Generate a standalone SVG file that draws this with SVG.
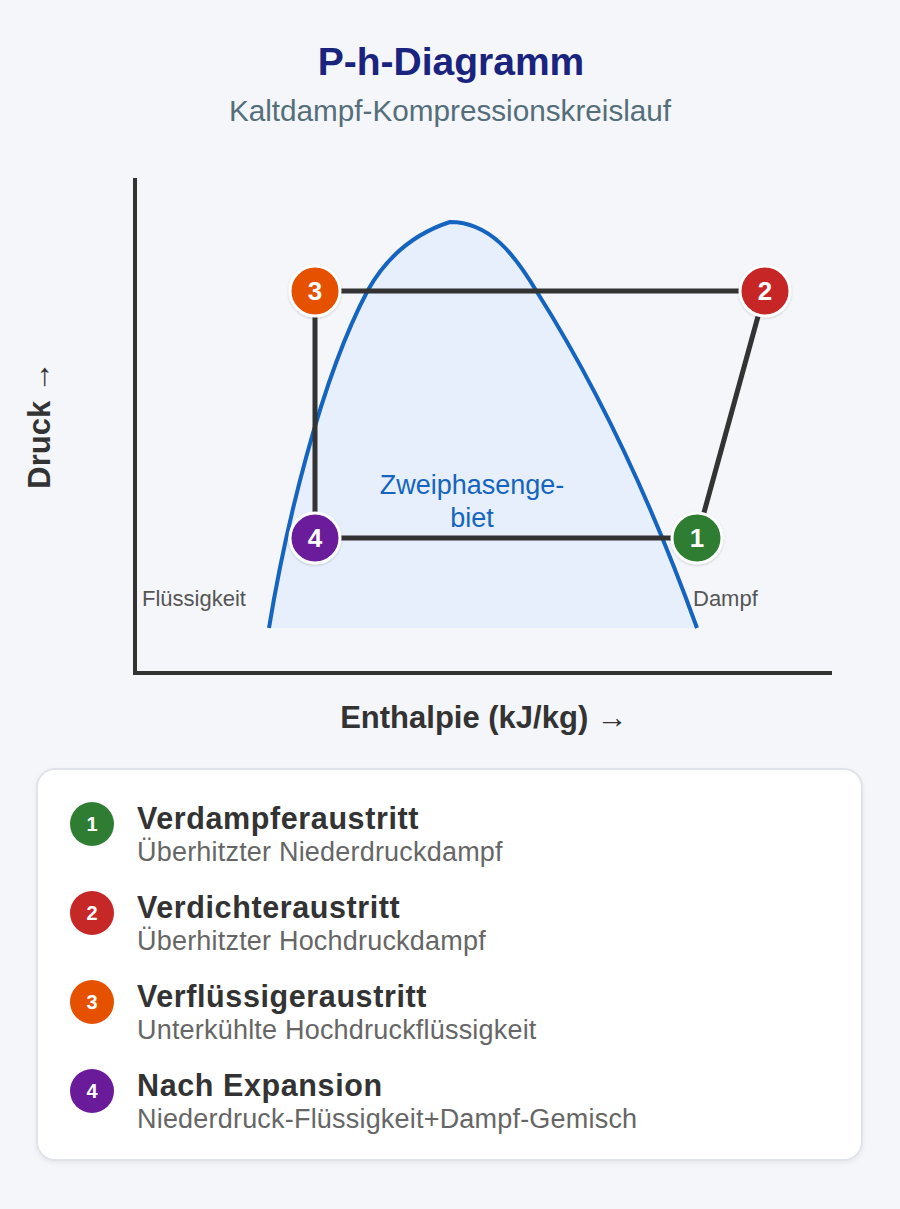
<svg xmlns="http://www.w3.org/2000/svg" width="900" height="1209" viewBox="0 0 900 1209">
  <defs>
    <filter id="sh" x="-30%" y="-30%" width="160%" height="160%">
      <feDropShadow dx="0" dy="1" stdDeviation="1.2" flood-color="#000" flood-opacity="0.18"/>
    </filter>
    <filter id="boxsh" x="-5%" y="-5%" width="110%" height="110%">
      <feDropShadow dx="0" dy="2" stdDeviation="2" flood-color="#000" flood-opacity="0.06"/>
    </filter>
    <style>
      .title { font-family: "Liberation Sans", Arial, sans-serif; font-weight: bold; font-size: 39px; fill: #1a237e; }
      .subtitle { font-family: "Liberation Sans", Arial, sans-serif; font-size: 29.7px; fill: #546e7a; }
      .axislabel { font-family: "Liberation Sans", Arial, sans-serif; font-weight: bold; font-size: 31px; fill: #333; }
      .axis { stroke: #333; stroke-width: 4; fill: none; }
      .cycle { stroke: #333; stroke-width: 5; fill: none; }
      .dome { stroke: #1565c0; stroke-width: 4; fill: none; stroke-linejoin: round; }
      .domefill { fill: #e6effb; stroke: none; }
      .region { font-family: "Liberation Sans", Arial, sans-serif; font-size: 22px; fill: #555; }
      .zone { font-family: "Liberation Sans", Arial, sans-serif; font-size: 27px; fill: #1565c0; }
      .node circle { stroke: #fff; stroke-width: 3; filter: url(#sh); }
      .node text { font-family: "Liberation Sans", Arial, sans-serif; font-weight: bold; font-size: 26px; fill: #fff; text-anchor: middle; }
      .leg circle { stroke: none; }
      .leg .num { font-family: "Liberation Sans", Arial, sans-serif; font-weight: bold; font-size: 20px; fill: #fff; text-anchor: middle; }
      .leg .lt { font-family: "Liberation Sans", Arial, sans-serif; font-weight: bold; font-size: 30.5px; letter-spacing: 0.6px; fill: #333; }
      .leg .ls { font-family: "Liberation Sans", Arial, sans-serif; font-size: 27px; letter-spacing: 0.2px; fill: #666; }
      .c1 { fill: #2e7d32; }
      .c2 { fill: #c62828; }
      .c3 { fill: #e65100; }
      .c4 { fill: #6a1b9a; }
    </style>
  </defs>

  <rect x="0" y="0" width="900" height="1209" fill="#f4f6fa"/>

  <g id="header">
    <text class="title" x="451" y="75" text-anchor="middle">P-h-Diagramm</text>
    <text class="subtitle" x="450" y="121" text-anchor="middle">Kaltdampf-Kompressionskreislauf</text>
  </g>

  <g id="dome">
    <path class="domefill" d="M 269 628 C 285 530, 320 380, 368 290 C 385 260, 410 235, 450 222 C 490 222, 515 255, 537 292 C 580 360, 640 470, 697 628 Z"/>
    <path class="dome" d="M 269 628 C 285 530, 320 380, 368 290 C 385 260, 410 235, 450 222 C 490 222, 515 255, 537 292 C 580 360, 640 470, 697 628"/>
    <text class="zone" x="472" y="494" text-anchor="middle">Zweiphasenge-</text>
    <text class="zone" x="472" y="527" text-anchor="middle">biet</text>
  </g>

  <g id="axes">
    <line class="axis" x1="135" y1="178" x2="135" y2="675"/>
    <line class="axis" x1="133" y1="673" x2="832" y2="673"/>
    <text class="axislabel" x="484" y="728" text-anchor="middle">Enthalpie (kJ/kg) →</text>
    <text class="axislabel" transform="translate(50 425) rotate(-90)" x="0" y="0" text-anchor="middle">Druck →</text>
    <text class="region" x="142" y="606">Flüssigkeit</text>
    <text class="region" x="693" y="606">Dampf</text>
  </g>

  <g id="connectors">
    <line class="cycle" x1="315" y1="291" x2="765" y2="291"/>
    <line class="cycle" x1="765" y1="291" x2="697" y2="538"/>
    <line class="cycle" x1="697" y1="538" x2="315" y2="538"/>
    <line class="cycle" x1="315" y1="538" x2="315" y2="291"/>
  </g>

  <g id="node-1" class="node">
    <circle class="c1" cx="697" cy="538" r="25"/>
    <text x="697" y="547">1</text>
  </g>
  <g id="node-2" class="node">
    <circle class="c2" cx="765" cy="291" r="25"/>
    <text x="765" y="300">2</text>
  </g>
  <g id="node-3" class="node">
    <circle class="c3" cx="315" cy="291" r="25"/>
    <text x="315" y="300">3</text>
  </g>
  <g id="node-4" class="node">
    <circle class="c4" cx="315" cy="538" r="25"/>
    <text x="315" y="547">4</text>
  </g>

  <g id="legend">
    <rect x="37" y="769" width="825" height="391" rx="18" fill="#fff" stroke="#e0e3e8" stroke-width="2" filter="url(#boxsh)"/>
    <g id="legend-1" class="leg">
      <circle class="c1" cx="92" cy="824" r="22"/>
      <text class="num" x="92" y="831">1</text>
      <text class="lt" x="137" y="829">Verdampferaustritt</text>
      <text class="ls" x="137" y="861">Überhitzter Niederdruckdampf</text>
    </g>
    <g id="legend-2" class="leg">
      <circle class="c2" cx="92" cy="913" r="22"/>
      <text class="num" x="92" y="920">2</text>
      <text class="lt" x="137" y="918">Verdichteraustritt</text>
      <text class="ls" x="137" y="950">Überhitzter Hochdruckdampf</text>
    </g>
    <g id="legend-3" class="leg">
      <circle class="c3" cx="92" cy="1002" r="22"/>
      <text class="num" x="92" y="1009">3</text>
      <text class="lt" x="137" y="1007">Verflüssigeraustritt</text>
      <text class="ls" x="137" y="1039">Unterkühlte Hochdruckflüssigkeit</text>
    </g>
    <g id="legend-4" class="leg">
      <circle class="c4" cx="92" cy="1091" r="22"/>
      <text class="num" x="92" y="1098">4</text>
      <text class="lt" x="137" y="1096">Nach Expansion</text>
      <text class="ls" x="137" y="1128">Niederdruck-Flüssigkeit+Dampf-Gemisch</text>
    </g>
  </g>
</svg>
